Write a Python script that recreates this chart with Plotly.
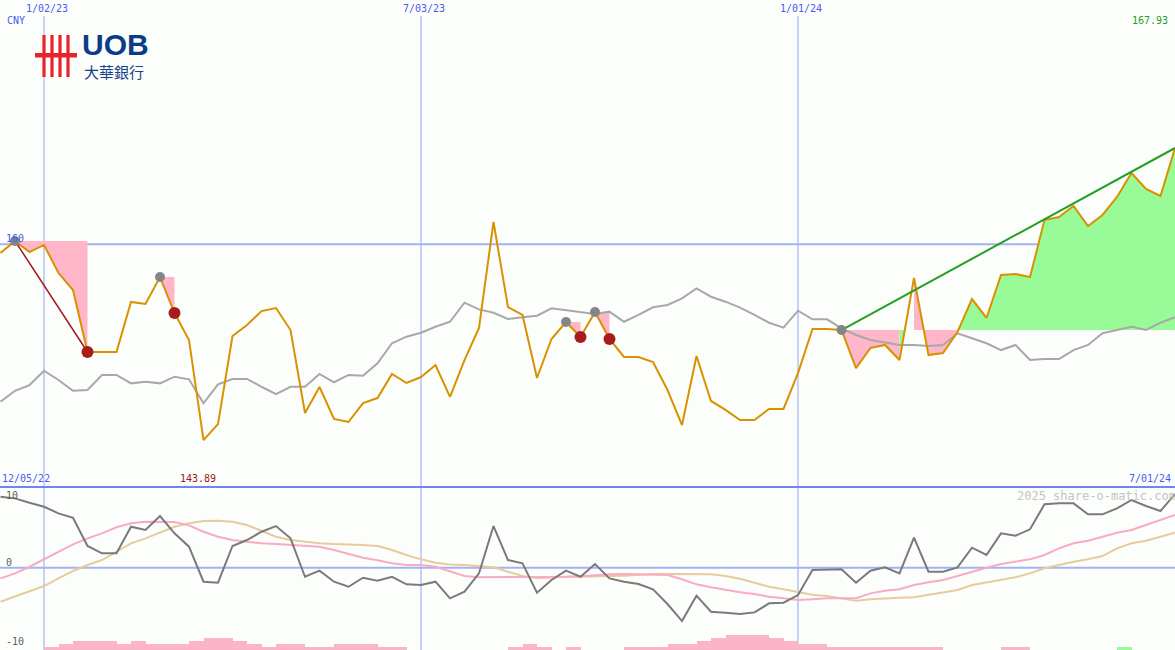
import plotly.graph_objects as go
import pandas as pd

W, H = 1175, 650

# ---------------- data ----------------
dates = pd.date_range("2022-12-12", periods=82, freq="7D")

price = [159.29, 160.28, 159.37, 159.95, 157.64, 156.24, 151.14, 151.14, 151.14, 155.26,
         155.09, 157.31, 154.35, 152.13, 143.89, 145.21, 152.46, 153.36, 154.51, 154.76,
         152.95, 146.12, 148.26, 145.63, 145.38, 146.94, 147.35, 149.33, 148.59, 149.08,
         150.07, 147.44, 150.48, 153.12, 161.84, 154.84, 154.19, 149.00, 152.21, 153.61,
         152.37, 154.43, 152.21, 150.73, 150.73, 150.32, 148.01, 145.13, 150.81, 147.11,
         146.37, 145.54, 145.54, 146.45, 146.45, 149.40, 153.03, 153.03, 152.95, 149.82,
         151.47, 151.72, 150.48, 157.23, 150.89, 151.06, 152.79, 155.50, 153.94, 157.48,
         157.56, 157.31, 162.00, 162.25, 163.16, 161.51, 162.42, 163.90, 165.87, 164.56,
         163.98, 167.93]

compare = [147.05, 147.95, 148.42, 149.60, 148.84, 147.95, 148.01, 149.25, 149.25, 148.56,
           148.70, 148.56, 149.11, 148.89, 146.92, 148.48, 148.92, 148.92, 148.28, 147.68,
           148.28, 148.28, 149.33, 148.65, 149.25, 149.19, 150.21, 151.86, 152.40, 152.73,
           153.22, 153.63, 155.20, 154.65, 154.37, 153.86, 154.00, 154.13, 154.74, 154.60,
           154.46, 154.27, 154.46, 153.63, 154.19, 154.82, 155.01, 155.56, 156.38, 155.69,
           155.28, 154.79, 154.19, 153.55, 153.14, 154.54, 153.83, 153.83, 153.09, 152.54,
           152.13, 151.91, 151.72, 151.72, 151.63, 151.72, 152.68, 152.27, 151.86, 151.30,
           151.72, 150.48, 150.56, 150.56, 151.30, 151.72, 152.68, 152.95, 153.22, 152.95,
           153.55, 154.00]

momentum = [10.0, 9.77, 9.15, 8.59, 7.66, 7.04, 3.06, 2.03, 2.03, 5.77,
            5.31, 7.28, 4.84, 2.96, -1.97, -2.11, 3.06, 3.90, 5.07, 5.87,
            4.14, -1.27, -0.42, -1.97, -2.68, -1.41, -1.83, -1.27, -2.34, -2.44,
            -1.97, -4.31, -3.38, -0.79, 5.87, 1.08, 0.62, -3.52, -1.73, -0.42,
            -1.27, 0.52, -1.50, -1.97, -2.30, -3.05, -5.11, -7.51, -3.94, -6.19,
            -6.33, -6.52, -6.29, -5.02, -4.93, -3.85, -0.32, -0.32, -0.23, -2.11,
            -0.42, 0.05, -0.79, 4.23, -0.56, -0.56, 0.05, 2.82, 1.79, 4.84,
            4.51, 5.41, 8.93, 9.07, 9.07, 7.52, 7.52, 8.37, 9.54, 8.69,
            7.99, 10.38]

mom_fast = [-1.50, -0.79, 0.14, 1.18, 2.25, 3.29, 4.14, 4.84, 5.69, 6.25,
            6.48, 6.48, 6.44, 5.97, 5.07, 4.37, 3.90, 3.66, 3.44, 3.34,
            3.20, 3.10, 2.96, 2.49, 1.93, 1.41, 1.04, 0.62, 0.38, 0.38,
            0.14, -0.56, -1.17, -1.35, -1.35, -1.27, -1.27, -1.27, -1.27, -1.27,
            -1.21, -1.03, -0.93, -0.89, -0.93, -0.99, -1.03, -1.63, -2.34, -2.76,
            -3.14, -3.47, -3.70, -4.08, -4.31, -4.55, -4.45, -4.31, -4.31, -4.31,
            -3.61, -3.24, -3.04, -2.44, -2.06, -1.73, -1.17, -0.56, 0.00, 0.52,
            0.85, 1.18, 1.79, 2.73, 3.44, 3.80, 4.37, 4.93, 5.31, 6.01,
            6.72, 7.42]

mom_slow = [-4.79, -4.08, -3.28, -2.58, -1.50, -0.46, 0.38, 1.08, 2.25, 3.44,
            4.14, 4.93, 5.77, 6.25, 6.58, 6.62, 6.48, 6.01, 5.21, 4.37,
            3.90, 3.66, 3.44, 3.34, 3.29, 3.20, 3.06, 2.49, 1.79, 1.18,
            0.70, 0.47, 0.38, 0.24, 0.05, -0.56, -1.17, -1.50, -1.35, -1.27,
            -1.27, -1.17, -1.17, -1.13, -0.99, -0.89, -0.89, -0.93, -0.99, -0.93,
            -1.17, -1.55, -2.11, -2.68, -3.04, -3.42, -3.80, -3.99, -4.31, -4.65,
            -4.45, -4.31, -4.23, -4.17, -3.85, -3.47, -3.14, -2.44, -2.11, -1.73,
            -1.35, -0.79, -0.08, 0.38, 0.85, 1.18, 1.65, 2.73, 3.44, 3.80,
            4.37, 4.93]

# histogram blocks: negative = pink, positive = green
bars = [0, 0, 0, -1, -2, -3, -3, -3, -2, -3,
        -2, -2, -2, -3, -4, -4, -3, -2, -1, -2,
        -2, -1, -1, -2, -2, -2, -1, -1, 0, 0,
        0, 0, 0, 0, 0, -1, -2, -1, 0, -1,
        0, 0, 0, -1, -1, -1, -2, -2, -3, -4,
        -5, -5, -5, -4, -3, -2, -2, -1, -1, -1,
        -1, -1, -1, -1, -1, 0, 0, 0, 0, -1,
        -1, 0, 0, 0, 0, 0, 0, 1, 0, 0,
        0, 0]

peaks = [1, 11, 39, 41]        # drawdown start (grey dots)
troughs = [6, 12, 40, 42]      # drawdown end (red dots)
trend_start, trend_end = 58, 81
grid_dates = ["2023-01-02", "2023-07-03", "2024-01-01"]
grid_labels = ["1/02/23", "7/03/23", "1/01/24"]

# ---------------- styling ----------------
ORANGE = "#d99100"
GREY = "#a8a8a8"
PINK = "#ffb6c8"
GREEN = "#98fb98"
BLUE_GRID = "#a4b2f4"
BLUE_TXT = "#4a5cf0"
FONT = "DejaVu Sans Mono"


def px(x):
    return x / W


def py(y):
    return 1 - y / H


fig = go.Figure()


def poly(xs, ys, color):
    fig.add_trace(go.Scatter(x=xs, y=ys, mode="lines", fill="toself", fillcolor=color,
                             line=dict(width=0), hoverinfo="skip", yaxis="y"))


# drawdown fills
for a, b in zip(peaks, troughs):
    xs = list(dates[a:b + 1]) + [dates[b], dates[a]]
    ys = price[a:b + 1] + [price[a], price[a]]
    poly(xs, ys, PINK)

# fill relative to trend start level
base = price[trend_start]


def cross(i):
    t = (base - price[i]) / (price[i + 1] - price[i])
    return dates[i] + (dates[i + 1] - dates[i]) * t


c1 = cross(62)
c2 = cross(63)
c3 = cross(66)
poly(list(dates[58:63]) + [dates[62], dates[58]], price[58:63] + [base, base], PINK)
poly([dates[62], c1, dates[62]], [price[62], base, base], GREEN)
poly([dates[63], c2, dates[63]], [price[63], base, base], PINK)
poly([c2] + list(dates[64:67]) + [c3], [base] + price[64:67] + [base], PINK)
poly([c3] + list(dates[67:82]) + [dates[81]], [base] + price[67:82] + [base], GREEN)

# comparison + price
fig.add_trace(go.Scatter(x=dates, y=compare, mode="lines", line=dict(color=GREY, width=2),
                         yaxis="y"))
fig.add_trace(go.Scatter(x=dates, y=price, mode="lines", line=dict(color=ORANGE, width=2),
                         yaxis="y"))

# drawdown line (first)
fig.add_trace(go.Scatter(x=[dates[peaks[0]], dates[troughs[0]]],
                         y=[price[peaks[0]], price[troughs[0]]], mode="lines",
                         line=dict(color="#9c1a1a", width=1.5), yaxis="y"))
# trend line
fig.add_trace(go.Scatter(x=[dates[trend_start], dates[trend_end]],
                         y=[price[trend_start], price[trend_end]], mode="lines",
                         line=dict(color="#22a022", width=2), yaxis="y"))
# markers
fig.add_trace(go.Scatter(x=[dates[i] for i in peaks + [trend_start]],
                         y=[price[i] for i in peaks + [trend_start]], mode="markers",
                         marker=dict(color="#858585", size=10), yaxis="y"))
fig.add_trace(go.Scatter(x=[dates[i] for i in troughs], y=[price[i] for i in troughs],
                         mode="markers", marker=dict(color="#a81c1c", size=12), yaxis="y"))

# lower panel
fig.add_trace(go.Bar(x=dates, y=[abs(v) for v in bars], offset=0,
                     width=7 * 24 * 3600 * 1000,
                     marker=dict(color=[GREEN if v > 0 else "#fcb4c8" for v in bars],
                                 line=dict(width=0)),
                     yaxis="y3"))
fig.add_trace(go.Scatter(x=dates, y=mom_slow, mode="lines",
                         line=dict(color="#e6cc9c", width=2), yaxis="y2"))
fig.add_trace(go.Scatter(x=dates, y=mom_fast, mode="lines",
                         line=dict(color="#f8aac6", width=2), yaxis="y2"))
fig.add_trace(go.Scatter(x=dates, y=momentum, mode="lines",
                         line=dict(color="#7a7a7a", width=2), yaxis="y2"))

# ---------------- shapes ----------------
shapes = []
for d in grid_dates:
    shapes.append(dict(type="line", xref="x", yref="paper", x0=d, x1=d, y0=0, y1=py(16),
                       line=dict(color=BLUE_GRID, width=1.2), layer="below"))
shapes.append(dict(type="line", xref="paper", yref="y", x0=0, x1=1, y0=160, y1=160,
                   line=dict(color=BLUE_GRID, width=2), layer="below"))
shapes.append(dict(type="line", xref="paper", yref="y2", x0=0, x1=1, y0=0, y1=0,
                   line=dict(color=BLUE_GRID, width=2), layer="below"))
shapes.append(dict(type="line", xref="paper", yref="paper", x0=0, x1=1, y0=py(487),
                   y1=py(487), line=dict(color="#7484ee", width=2), layer="above"))

# UOB logo
RED = "#e8232a"
for bx in [44, 52, 60, 68]:
    shapes.append(dict(type="rect", xref="paper", yref="paper", x0=px(bx - 1.6),
                       x1=px(bx + 1.6), y0=py(77), y1=py(35), fillcolor=RED,
                       line=dict(width=0)))
shapes.append(dict(type="rect", xref="paper", yref="paper", x0=px(35), x1=px(77),
                   y0=py(57.5), y1=py(53), fillcolor=RED, line=dict(width=0)))

# ---------------- annotations ----------------
ann = []


def text(t, x, y, color, anchor="left", size=10, family=FONT, yanchor="middle", bold=False):
    if bold:
        t = "<b>" + t + "</b>"
    ann.append(dict(text=t, x=px(x), y=py(y), xref="paper", yref="paper",
                    xanchor=anchor, yanchor=yanchor, showarrow=False,
                    font=dict(color=color, size=size, family=family)))


text("CNY", 5, 20, BLUE_TXT)
for d, lab in zip(grid_dates, grid_labels):
    idx = list(dates).index(pd.Timestamp(d))
    text(lab, 0.5 + 14.5 * idx + 3, 8, BLUE_TXT, anchor="center")
text(f"{max(price):.2f}", 1170, 20, "#22a022", anchor="right")
text("160", 4, 238, BLUE_TXT)
text("12/05/22", 0, 478, BLUE_TXT)
text(f"{min(price):.2f}", 178, 478, "#a01818")
text("7/01/24", 1173, 478, BLUE_TXT, anchor="right")
text("2025 share-o-matic.com", 1178, 496, "#c4c4c4", anchor="right", size=12)
text("10", 4, 495, "#606060")
text("0", 4, 562, "#606060")
text("-10", 4, 641, "#606060")
text("UOB", 80, 45, "#0c3c88", size=30, family="Liberation Sans", bold=True)
text("大華銀行", 82, 71.5, "#17418c", size=15, family="Noto Sans CJK TC")

x_start = dates[0] - pd.Timedelta(hours=5.8)
x_end = dates[-1]

split = 1 - 487 / H
fig.update_layout(
    width=W, height=H,
    margin=dict(l=0, r=0, t=0, b=0),
    paper_bgcolor="#fcfefc", plot_bgcolor="#fcfefc",
    showlegend=False,
    xaxis=dict(type="date", range=[x_start, x_end], visible=False, fixedrange=True),
    yaxis=dict(domain=[split, 1], range=[140.03, 180.11], visible=False),
    yaxis2=dict(domain=[0, split], range=[-11.59, 11.37], visible=False, anchor="x"),
    yaxis3=dict(overlaying="y2", range=[0, 163 / 3], visible=False, anchor="x"),
    shapes=shapes,
    annotations=ann,
    bargap=0,
)

fig.write_html("out.html", config={"displayModeBar": False},
               post_script="document.body.style.margin='0';document.body.style.padding='0';"
                           "document.body.style.overflow='hidden';")
